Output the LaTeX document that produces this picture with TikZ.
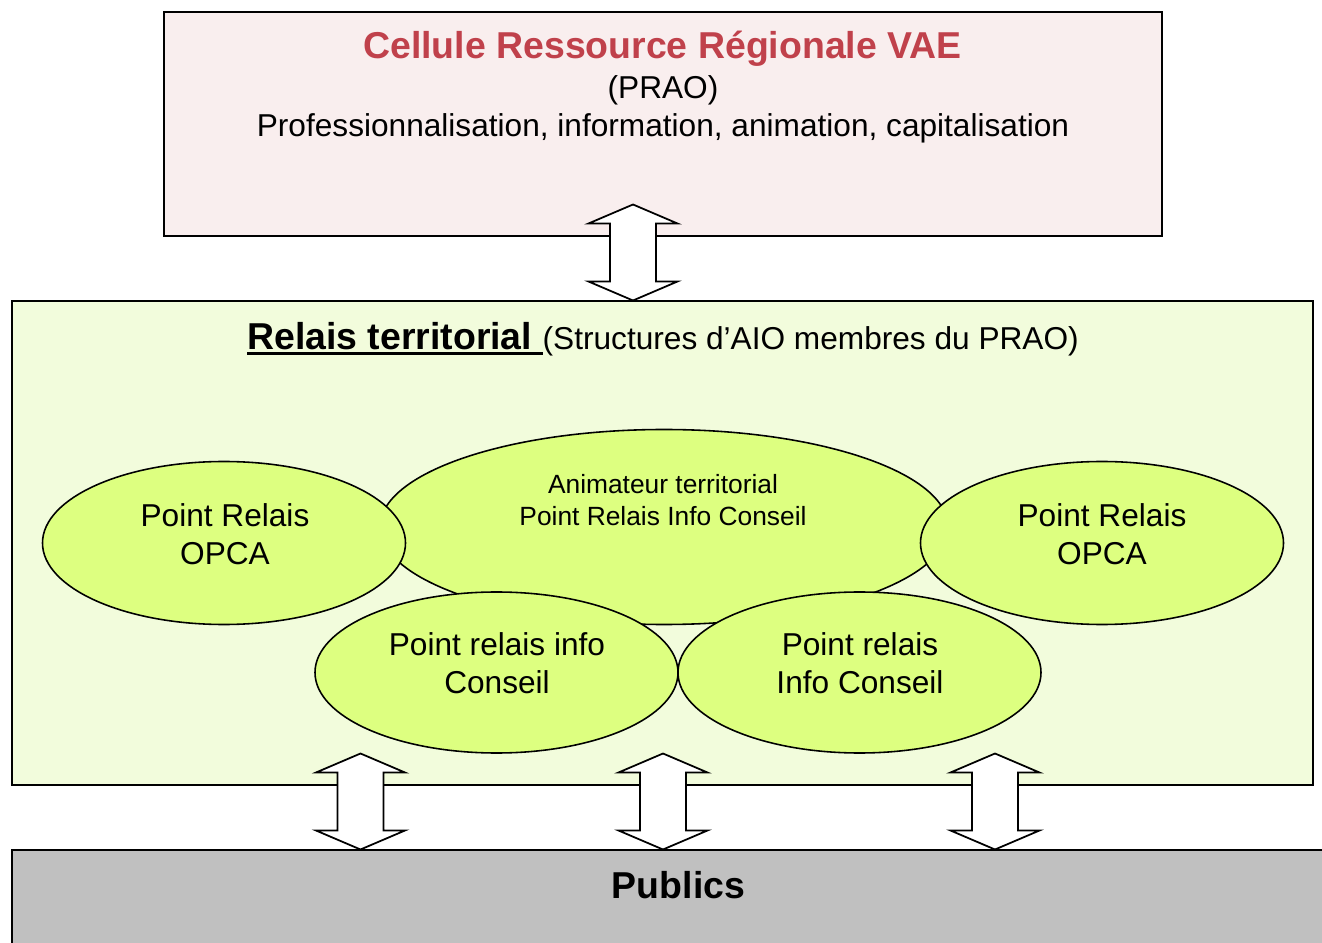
\documentclass[tikz,border=0pt]{standalone}
\usepackage{fontspec}
\setmainfont{Liberation Sans}
\usepackage{tikz}
\usetikzlibrary{shapes.geometric}

\definecolor{rosepale}{HTML}{F9EEEE}
\definecolor{vertpale}{HTML}{F2FCDC}
\definecolor{vertbulle}{HTML}{DDFF80}
\definecolor{rougetitre}{HTML}{C0414B}
\definecolor{grispublic}{HTML}{C0C0C0}

\newsavebox{\boitesoul}
\newcommand{\souligne}[1]{\sbox{\boitesoul}{#1}\rlap{\rule[-3pt]{\wd\boitesoul}{1.6pt}}\usebox{\boitesoul}}

\tikzset{dblarrow/.pic={
    \draw[fill=white, line width=1pt, line join=miter]
      (0,0.96) -- (0.89,0.58) -- (0.46,0.58) -- (0.46,-0.58) -- (0.89,-0.58) -- (0,-0.96)
      -- (-0.89,-0.58) -- (-0.46,-0.58) -- (-0.46,0.58) -- (-0.89,0.58) -- cycle;
}}

\begin{document}
\begin{tikzpicture}[line width=0.9pt]
    \tikzstyle{cadre} = [draw, rectangle, inner sep=0pt];
    \tikzstyle{bulle} = [draw, ellipse, fill=vertbulle, inner sep=0pt];
    \tikzstyle{txt} = [align=center, inner sep=0pt, font=\fontsize{18}{21.5}\selectfont];
    \tikzstyle{gros} = [inner sep=0pt, font=\fontsize{21.3}{25}\selectfont\bfseries];
    \useasboundingbox (0,0) rectangle (26.44,-18.86);

    \node[cadre, fill=rosepale, minimum width=19.96cm, minimum height=4.48cm] (cellule) at (13.26,-2.48) {};
    \node[gros, text=rougetitre] (cellule_t) at (13.25,-0.97) {Cellule Ressource Régionale VAE};
    \node[txt] (cellule_st) at (13.26,-2.18) {(PRAO)\\Professionnalisation, information, animation, capitalisation};

    \node[cadre, fill=vertpale, minimum width=26.02cm, minimum height=9.68cm] (relais) at (13.25,-10.86) {};
    \node[txt] (relais_t) at (13.26,-6.78) {{\fontsize{21.3}{25}\selectfont\bfseries\souligne{Relais territorial\ }}(Structures d’AIO membres du PRAO)};

    \node[cadre, fill=grispublic, minimum width=26.64cm, minimum height=2.0cm] (publics) at (13.56,-18.0) {};
    \node[gros] (publics_t) at (13.57,-17.7) {Publics};

    \node[bulle, minimum width=11.36cm, minimum height=3.9cm] (anim) at (13.28,-10.54) {};
    \node[bulle, minimum width=7.26cm, minimum height=3.26cm] (opca1) at (4.48,-10.86) {};
    \node[bulle, minimum width=7.26cm, minimum height=3.26cm] (opca2) at (22.04,-10.86) {};
    \node[bulle, minimum width=7.26cm, minimum height=3.22cm] (pric1) at (9.93,-13.45) {};
    \node[bulle, minimum width=7.26cm, minimum height=3.22cm] (pric2) at (17.19,-13.45) {};

    \node[txt, font=\fontsize{15}{18.1}\selectfont] (anim_t) at (13.26,-10.0) {Animateur territorial\\Point Relais Info Conseil};
    \node[txt] (opca1_t) at (4.5,-10.68) {Point Relais\\OPCA};
    \node[txt] (opca2_t) at (22.04,-10.68) {Point Relais\\OPCA};
    \node[txt] (pric1_t) at (9.94,-13.26) {Point relais info\\Conseil};
    \node[txt] (pric2_t) at (17.2,-13.26) {Point relais\\Info Conseil};

    \pic at (12.66,-5.05) {dblarrow};
    \pic at (7.21,-16.03) {dblarrow};
    \pic at (13.26,-16.03) {dblarrow};
    \pic at (19.9,-16.03) {dblarrow};
\end{tikzpicture}
\end{document}
